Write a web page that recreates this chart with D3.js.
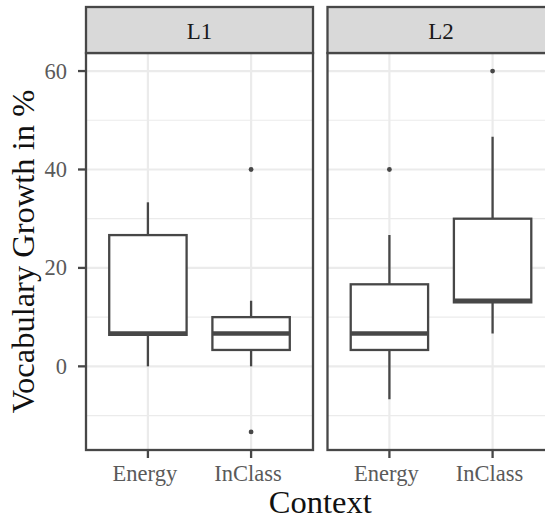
<!DOCTYPE html>
<html>
<head>
<meta charset="utf-8">
<script src="https://cdn.jsdelivr.net/npm/d3@7"></script>
<style>
  html, body { margin: 0; padding: 0; background: #fff; }
  svg { display: block; }
  text { font-family: "Liberation Serif", "DejaVu Serif", serif; }
</style>
</head>
<body>
<svg id="chart" width="545" height="520"></svg>
<script>
// ---- data ----
const facets = ["L1", "L2"];
const contexts = ["Energy", "InClass"];
// five-number summaries per facet/context: [lowerWhisker, q1, median, q3, upperWhisker]
const L1_Energy  = [0, 6.4, 6.67, 26.67, 33.33];
const L1_InClass = [0, 3.33, 6.67, 10, 13.33];
const L2_Energy  = [-6.67, 3.33, 6.67, 16.67, 26.67];
const L2_InClass = [6.67, 13.0, 13.33, 30, 46.67];
// outliers
const L1_Energy_out  = [];
const L1_InClass_out = [40, -13.33];
const L2_Energy_out  = [40];
const L2_InClass_out = [60];
const yTicks = [0, 20, 40, 60];
const yMinor = [-10, 10, 30, 50];
const yDataMin = -13.33, yDataMax = 60;

const boxes = [
  {facet: "L1", ctx: "Energy",  s: L1_Energy,  out: L1_Energy_out},
  {facet: "L1", ctx: "InClass", s: L1_InClass, out: L1_InClass_out},
  {facet: "L2", ctx: "Energy",  s: L2_Energy,  out: L2_Energy_out},
  {facet: "L2", ctx: "InClass", s: L2_InClass, out: L2_InClass_out}
];

// ---- layout ----
const svg = d3.select("#chart");
const panelTop = 53, panelBottom = 450, stripTop = 7;
const panelW = 227, panelGap = 14.5, panelLeft0 = 86;
const dark = "#474747", gridCol = "#EBEBEB";

const span = yDataMax - yDataMin;
const y = d3.scaleLinear()
  .domain([yDataMin - 0.05 * span, yDataMax + 0.05 * span])
  .range([panelBottom, panelTop]);

facets.forEach((f, i) => {
  const left = panelLeft0 + i * (panelW + panelGap);
  const x = d3.scalePoint().domain(contexts).range([left, left + panelW]).padding(0.6);
  const step = x.step();
  const g = svg.append("g");
  svg.append("clipPath").attr("id", "clip" + i)
    .append("rect").attr("x", left).attr("y", panelTop).attr("width", panelW).attr("height", panelBottom - panelTop);
  const pg = g.append("g").attr("clip-path", `url(#clip${i})`);

  // minor grid
  pg.selectAll(".minor").data(yMinor).join("line")
    .attr("x1", left).attr("x2", left + panelW)
    .attr("y1", d => y(d)).attr("y2", d => y(d))
    .attr("stroke", gridCol).attr("stroke-width", 1.2);
  // major grid
  pg.selectAll(".major").data(yTicks).join("line")
    .attr("x1", left).attr("x2", left + panelW)
    .attr("y1", d => y(d)).attr("y2", d => y(d))
    .attr("stroke", gridCol).attr("stroke-width", 2.2);
  pg.selectAll(".vmajor").data(contexts).join("line")
    .attr("x1", d => x(d)).attr("x2", d => x(d))
    .attr("y1", panelTop).attr("y2", panelBottom)
    .attr("stroke", gridCol).attr("stroke-width", 2.2);

  // boxes
  const bw = step * 0.75;
  boxes.filter(b => b.facet === f).forEach(b => {
    const cx = x(b.ctx);
    const [lo, q1, med, q3, hi] = b.s;
    pg.append("line").attr("x1", cx).attr("x2", cx).attr("y1", y(q3)).attr("y2", y(hi))
      .attr("stroke", dark).attr("stroke-width", 2.3);
    pg.append("line").attr("x1", cx).attr("x2", cx).attr("y1", y(q1)).attr("y2", y(lo))
      .attr("stroke", dark).attr("stroke-width", 2.3);
    pg.append("rect").attr("x", cx - bw / 2).attr("y", y(q3))
      .attr("width", bw).attr("height", y(q1) - y(q3))
      .attr("fill", "#fff").attr("stroke", dark).attr("stroke-width", 2.3);
    pg.append("line").attr("x1", cx - bw / 2).attr("x2", cx + bw / 2)
      .attr("y1", y(med)).attr("y2", y(med))
      .attr("stroke", dark).attr("stroke-width", 4.4);
    pg.selectAll(null).data(b.out).join("circle")
      .attr("cx", cx).attr("cy", d => y(d)).attr("r", 2.4).attr("fill", dark);
  });

  // panel border
  g.append("rect").attr("x", left).attr("y", panelTop).attr("width", panelW).attr("height", panelBottom - panelTop)
    .attr("fill", "none").attr("stroke", dark).attr("stroke-width", 2.3);
  // strip
  g.append("rect").attr("x", left).attr("y", stripTop).attr("width", panelW).attr("height", panelTop - stripTop)
    .attr("fill", "#D9D9D9").attr("stroke", dark).attr("stroke-width", 2.3);
  g.append("text").attr("x", left + panelW / 2).attr("y", 38.5)
    .attr("text-anchor", "middle").attr("font-size", 23).attr("fill", "#1A1A1A").text(f);

  // x axis
  g.selectAll(".xt").data(contexts).join("line")
    .attr("x1", d => x(d)).attr("x2", d => x(d))
    .attr("y1", panelBottom).attr("y2", panelBottom + 8)
    .attr("stroke", dark).attr("stroke-width", 2.3);
  g.selectAll(".xl").data(contexts).join("text")
    .attr("x", d => x(d) - 3).attr("y", 481)
    .attr("text-anchor", "middle").attr("font-size", 22.5).attr("fill", "#5a5a5a")
    .text(d => d);

  // y axis on the first panel
  if (i === 0) {
    g.selectAll(".yt").data(yTicks).join("line")
      .attr("x1", left - 8).attr("x2", left)
      .attr("y1", d => y(d)).attr("y2", d => y(d))
      .attr("stroke", dark).attr("stroke-width", 2.3);
    g.selectAll(".yl").data(yTicks).join("text")
      .attr("x", left - 19).attr("y", d => y(d) + 7.5)
      .attr("text-anchor", "end").attr("font-size", 22.5).attr("fill", "#5a5a5a")
      .text(d => d);
  }
});

// axis titles
svg.append("text")
  .attr("transform", `translate(34,${(panelTop + panelBottom) / 2}) rotate(-90)`)
  .attr("text-anchor", "middle").attr("font-size", 32.5).attr("fill", "#111")
  .text("Vocabulary Growth in %");
svg.append("text")
  .attr("x", panelLeft0 + (2 * panelW + panelGap) / 2).attr("y", 513)
  .attr("text-anchor", "middle").attr("font-size", 32.5).attr("fill", "#111")
  .text("Context");
</script>
</body>
</html>
